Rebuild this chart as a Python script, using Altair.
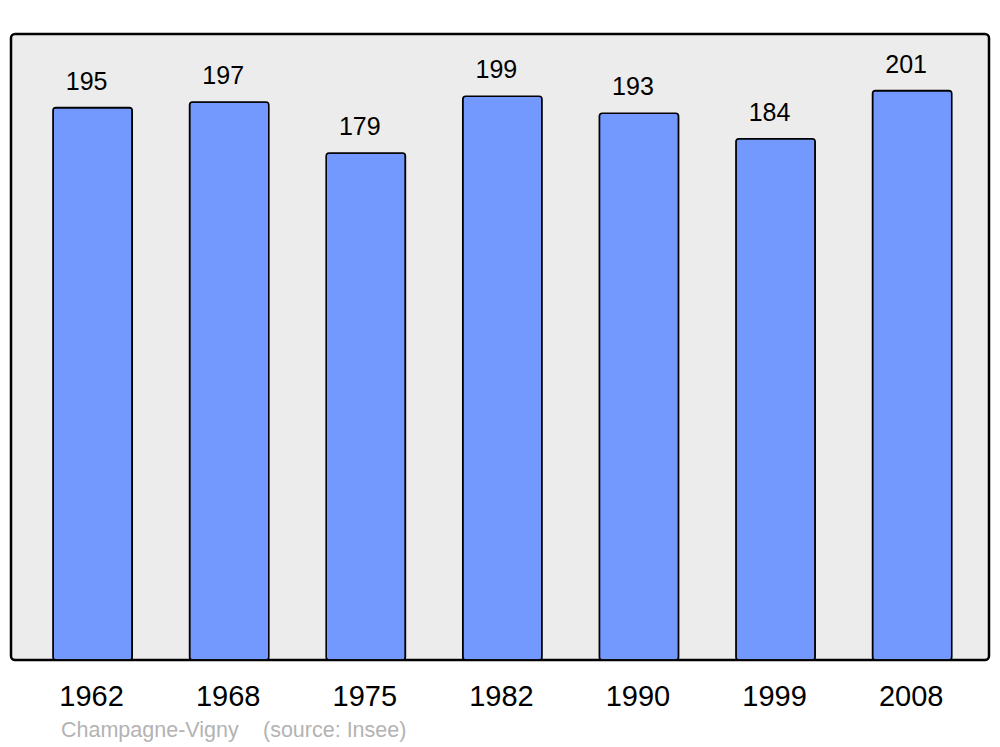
import altair as alt
import pandas as pd

years = ["1962", "1968", "1975", "1982", "1990", "1999", "2008"]
population = [195, 197, 179, 199, 193, 184, 201]
footer_texts = ["Champagne-Vigny", "(source: Insee)"]
footer_x = [50, 252]

df = pd.DataFrame({"year": years, "pop": population})
foot = pd.DataFrame({"t": footer_texts, "px": footer_x})

x_enc = alt.X(
    "year:N",
    sort=years,
    title=None,
    scale=alt.Scale(paddingInner=0.42, paddingOuter=0.29, align=0.53),
    axis=alt.Axis(
        domain=False,
        ticks=False,
        labelAngle=0,
        labelFont="Liberation Sans",
        labelFontSize=29,
        labelColor="#000000",
        labelBaseline="alphabetic",
        labelPadding=45,
        labelOffset=-1,
    ),
)
y_enc = alt.Y("pop:Q", scale=alt.Scale(domain=[0, 221], nice=False, zero=True), axis=None)

bars = alt.Chart(df).mark_bar(
    color="#7399ff", stroke="#000000", strokeWidth=1.6, cornerRadius=3
).encode(x=x_enc, y=y_enc)

labels = alt.Chart(df).mark_text(
    font="Liberation Sans", fontSize=25, color="#000000", baseline="alphabetic", dy=-18, dx=-6
).encode(x=alt.X("year:N", sort=years), y="pop:Q", text="pop:Q")

footer = alt.Chart(foot).mark_text(
    font="Liberation Sans", fontSize=21.5, color="#b3b3b3", align="left", baseline="alphabetic"
).encode(x=alt.X("px:Q", scale=None), y=alt.value(703), text="t:N")

chart = alt.layer(bars, labels, footer).properties(
    width=978,
    height=626,
    background="#ffffff",
    autosize=alt.AutoSizeParams(type="none"),
    padding={"left": 3, "top": 26, "right": 3, "bottom": 84},
).configure_view(
    fill="#ececec", stroke="#000000", strokeWidth=2.5, cornerRadius=4
)

chart.save("out.html", embed_options={"renderer": "svg", "actions": False})
